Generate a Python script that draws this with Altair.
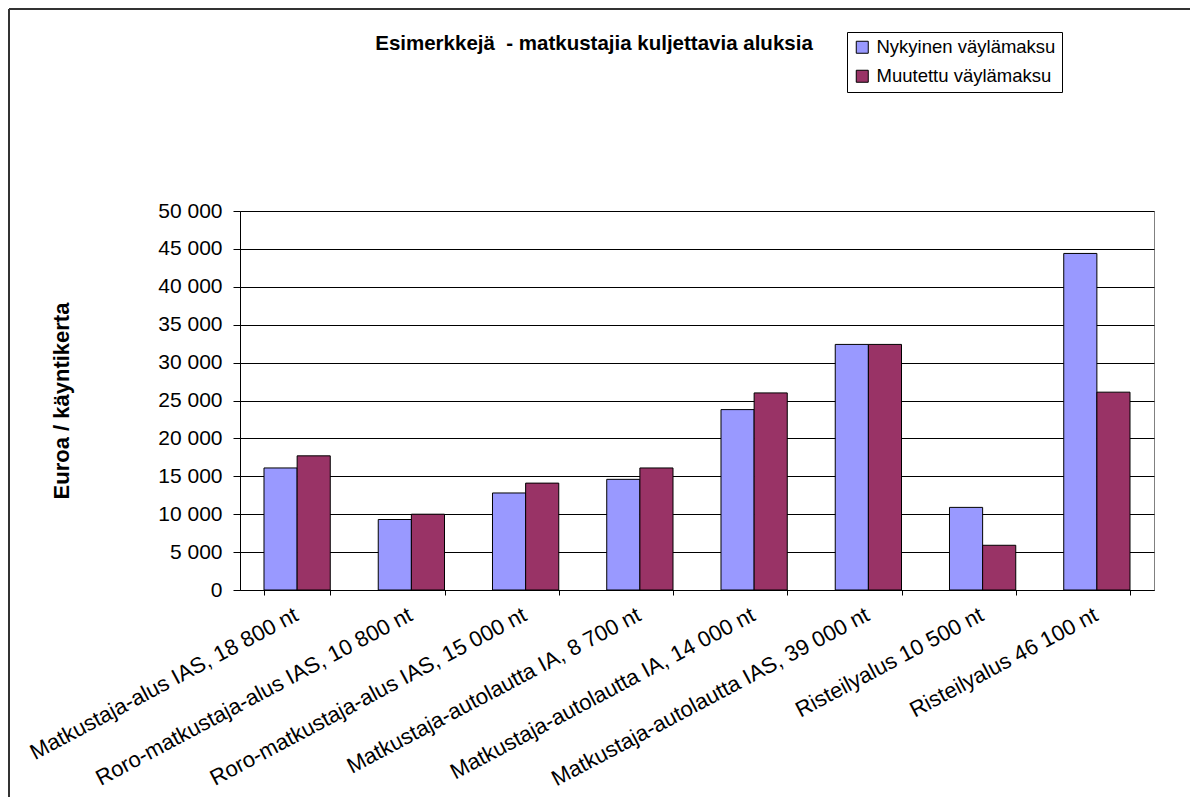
import altair as alt
import pandas as pd

title_text = "Esimerkkejä\u00a0 - matkustajia kuljettavia aluksia"
categories = [
    "Matkustaja-alus IAS, 18 800 nt",
    "Roro-matkustaja-alus IAS, 10 800 nt",
    "Roro-matkustaja-alus IAS, 15 000 nt",
    "Matkustaja-autolautta IA, 8 700 nt",
    "Matkustaja-autolautta IA, 14 000 nt",
    "Matkustaja-autolautta IAS, 39 000 nt",
    "Risteilyalus 10 500 nt",
    "Risteilyalus 46 100 nt",
]
nykyinen = [16100, 9300, 12800, 14600, 23800, 32400, 10900, 44400]
muutettu = [17700, 10000, 14100, 16100, 26000, 32400, 5900, 26100]
series = ["Nykyinen väylämaksu", "Muutettu väylämaksu"]
colors = ["#9999FF", "#993366"]
y_ticks = [0, 5000, 10000, 15000, 20000, 25000, 30000, 35000, 40000, 45000, 50000]

rows = []
for c, a, b in zip(categories, nykyinen, muutettu):
    rows.append({"kategoria": c, "sarja": series[0], "arvo": a})
    rows.append({"kategoria": c, "sarja": series[1], "arvo": b})
df = pd.DataFrame(rows)

FONT = "Liberation Sans"

bars = alt.Chart(df).mark_bar(stroke="black", strokeWidth=1).encode(
    x=alt.X(
        "kategoria:N",
        sort=categories,
        scale=alt.Scale(paddingInner=0.42, paddingOuter=0.21),
        axis=alt.Axis(
            title=None, labelAngle=-28, labelAlign="right", labelBaseline="top",
            labelFontSize=22, labelFont=FONT, labelColor="black", labelLimit=500,
            tickBand="extent", tickSize=5, tickColor="black", domainColor="black",
            labelPadding=9, labelOffset=-6, grid=False,
        ),
    ),
    xOffset=alt.XOffset("sarja:N", sort=series, scale=alt.Scale(paddingInner=0, paddingOuter=0)),
    y=alt.Y(
        "arvo:Q",
        scale=alt.Scale(domain=[0, 50000], nice=False),
        axis=alt.Axis(
            title="Euroa / käyntikerta", titleFont=FONT, titleFontSize=22, titleFontWeight="bold",
            titleColor="black", titlePadding=84,
            values=y_ticks, labelExpr="replace(format(datum.value, ','), ',', ' ')",
            labelFontSize=21, labelFont=FONT, labelColor="black", labelPadding=11,
            tickSize=7, tickColor="black", domainColor="black",
            grid=True, gridColor="black", gridWidth=1,
        ),
    ),
    color=alt.Color(
        "sarja:N", sort=series,
        scale=alt.Scale(domain=series, range=colors),
        legend=alt.Legend(
            title=None, orient="none", legendX=607, legendY=-179,
            strokeColor="black", fillColor="white", padding=6,
            labelFontSize=18.5, labelFont=FONT, labelColor="black", labelLimit=400,
            symbolType="square", symbolSize=144, symbolStrokeColor="black",
            symbolStrokeWidth=1, symbolOpacity=1, rowPadding=10, labelOffset=5,
        ),
    ),
)

title_layer = alt.Chart(alt.Data(values=[{"t": title_text}])).mark_text(
    font=FONT, fontSize=20.5, fontWeight="bold", color="black",
    align="center", baseline="alphabetic",
).encode(text="t:N", x=alt.value(354), y=alt.value(-161))

frame_data = alt.Data(values=[{"k": 1}])
frame_left = alt.Chart(frame_data).mark_rule(color="#333333", strokeWidth=2).encode(
    x=alt.value(-231), y=alt.value(-202), y2=alt.value(586)
)
frame_top = alt.Chart(frame_data).mark_rule(color="#333333", strokeWidth=2).encode(
    x=alt.value(-231), x2=alt.value(950), y=alt.value(-202)
)

chart = alt.layer(bars, title_layer, frame_left, frame_top).properties(
    width=914,
    height=379,
    autosize=alt.AutoSizeParams(type="none"),
    padding={"left": 232, "top": 203, "right": 36, "bottom": 207},
).configure_view(stroke="#808080", strokeWidth=1)

chart.save("out.html", embed_options={"renderer": "svg", "actions": False})
